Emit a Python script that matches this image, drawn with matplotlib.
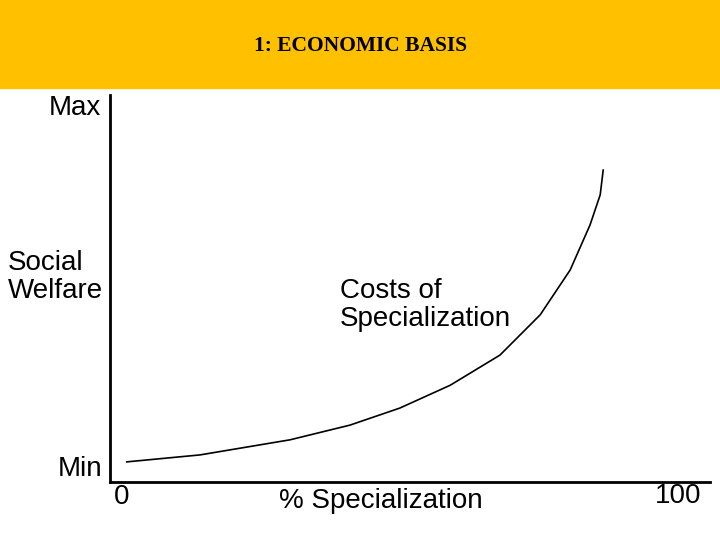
import matplotlib
matplotlib.use("Agg")
import matplotlib.pyplot as plt
from matplotlib.patches import Rectangle

specialization = [2.8, 15, 30, 40, 48.3, 56.7, 65, 71.7, 76.7, 80, 81.7, 82.2]
welfare = [5.2, 7, 10.9, 14.7, 19.1, 25, 32.8, 43.2, 54.8, 66.4, 74.2, 80.6]

W, H = 720, 540
fig = plt.figure(figsize=(7.2, 5.4), dpi=100)
fig.patch.set_facecolor("white")
fig.add_artist(Rectangle((0, 1 - 88 / H), 1, 88 / H, transform=fig.transFigure, color="#FFC000", zorder=0))
fig.text(360 / W, 1 - 46 / H, "1: ECONOMIC BASIS", ha="center", va="center",
         family="Liberation Serif", fontweight="bold", fontsize=15.5)

ax = fig.add_axes([110 / W, 1 - 482 / H, 600 / W, 387 / H])
ax.plot(specialization, welfare, color="black", lw=1.2)
ax.set_xlim(0, 100)
ax.set_ylim(0, 100)
ax.set_xticks([]); ax.set_yticks([])
for s in ("top", "right"):
    ax.spines[s].set_visible(False)
for s in ("left", "bottom"):
    ax.spines[s].set_linewidth(2)

fs = 20
kw = dict(family="Liberation Sans", fontsize=fs, color="black")
fig.text(75 / W, 1 - 108 / H, "Max", ha="center", va="center", **kw)
fig.text(8 / W, 1 - 277 / H, "Social\nWelfare", ha="left", va="center", linespacing=1.05, **kw)
fig.text(80 / W, 1 - 469 / H, "Min", ha="center", va="center", **kw)
fig.text(122 / W, 1 - 497 / H, "0", ha="center", va="center", **kw)
fig.text(381 / W, 1 - 501 / H, "% Specialization", ha="center", va="center", **kw)
fig.text(678 / W, 1 - 496 / H, "100", ha="center", va="center", **kw)
fig.text(340 / W, 1 - 305 / H, "Costs of\nSpecialization", ha="left", va="center", linespacing=1.05, **kw)

fig.savefig("out.png", dpi=100)
